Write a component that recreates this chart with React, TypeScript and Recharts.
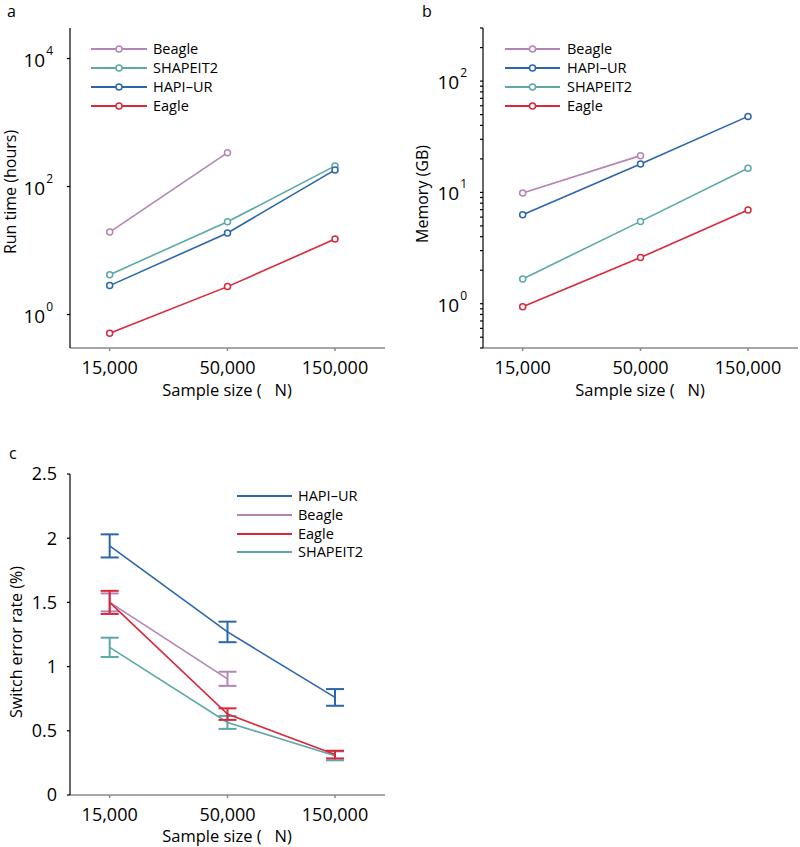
import React from 'react';
import { LineChart, Line, XAxis, YAxis, ErrorBar } from 'recharts';

const FONT = '"Open Sans", "Noto Sans", sans-serif';

// ---------- shared ----------
const sampleSizes = [15000, 50000, 150000];
const xTicks = [15000, 50000, 150000];

const COLORS = {
  beagle: '#b584b6',
  shapeit: '#5ba8a9',
  hapi: '#2a66ad',
  eagle: '#d8283a',
};

// ---------- panel a: run time (hours) ----------
const runBeagle = [19.4, 338, null];
const runShapeit = [4.2, 28.1, 210];
const runHapi = [2.83, 18.8, 182];
const runEagle = [0.51, 2.73, 15.1];
const runTicks = [1, 100, 10000];

// ---------- panel b: memory (GB) ----------
const memBeagle = [9.86, 21.4, null];
const memHapi = [6.3, 18.0, 48.2];
const memShapeit = [1.67, 5.49, 16.5];
const memEagle = [0.94, 2.6, 6.94];
const memTicks = [
  0.4, 0.5, 0.6, 0.7, 0.8, 0.9, 1,
  2, 3, 4, 5, 6, 7, 8, 9, 10,
  20, 30, 40, 50, 60, 70, 80, 90, 100,
  200, 300,
];

// ---------- panel c: switch error rate (%) ----------
const serHapi = [1.94, 1.27, 0.76];
const serHapiErr = [0.09, 0.08, 0.065];
const serBeagle = [1.5, 0.905, null];
const serBeagleErr = [0.07, 0.055, null];
const serEagle = [1.5, 0.63, 0.315];
const serEagleErr = [0.09, 0.045, 0.03];
const serShapeit = [1.15, 0.565, 0.305];
const serShapeitErr = [0.075, 0.05, 0.035];
const serTicks = [0, 0.5, 1, 1.5, 2, 2.5];

const legendA = [
  { name: 'Beagle', color: COLORS.beagle },
  { name: 'SHAPEIT2', color: COLORS.shapeit },
  { name: 'HAPI\u2013UR', color: COLORS.hapi },
  { name: 'Eagle', color: COLORS.eagle },
];
const legendB = [
  { name: 'Beagle', color: COLORS.beagle },
  { name: 'HAPI\u2013UR', color: COLORS.hapi },
  { name: 'SHAPEIT2', color: COLORS.shapeit },
  { name: 'Eagle', color: COLORS.eagle },
];
const legendC = [
  { name: 'HAPI\u2013UR', color: COLORS.hapi },
  { name: 'Beagle', color: COLORS.beagle },
  { name: 'Eagle', color: COLORS.eagle },
  { name: 'SHAPEIT2', color: COLORS.shapeit },
];

const dataA = sampleSizes.map((n, i) => ({
  n,
  beagle: runBeagle[i],
  shapeit: runShapeit[i],
  hapi: runHapi[i],
  eagle: runEagle[i],
}));

const dataB = sampleSizes.map((n, i) => ({
  n,
  beagle: memBeagle[i],
  hapi: memHapi[i],
  shapeit: memShapeit[i],
  eagle: memEagle[i],
}));

const dataC = sampleSizes.map((n, i) => ({
  n,
  hapi: serHapi[i],
  hapiErr: serHapiErr[i],
  beagle: serBeagle[i],
  beagleErr: serBeagleErr[i],
  eagle: serEagle[i],
  eagleErr: serEagleErr[i],
  shapeit: serShapeit[i],
  shapeitErr: serShapeitErr[i],
}));

const fmtN = (v: number) => v.toLocaleString('en-US');

const PowTick = (props: any) => {
  const { x, y, payload } = props;
  const v = payload.value;
  const lg = Math.log10(v);
  const e = Math.round(lg);
  if (Math.abs(lg - e) > 1e-6) return <g />;
  return (
    <text x={x} y={y} textAnchor="end" fontFamily={FONT} fill="#000">
      <tspan fontSize={19} dy={8}>10</tspan>
      <tspan fontSize={12} dy={-12} dx={1}>{e}</tspan>
    </text>
  );
};

const xAxisProps = {
  dataKey: 'n',
  type: 'number' as const,
  scale: 'log' as const,
  domain: [10000, 250000],
  ticks: xTicks,
  allowDataOverflow: true,
  tickFormatter: fmtN,
  height: 52,
  tickSize: 3,
  tickMargin: 10,
  stroke: '#8a8a8a',
  strokeWidth: 1.5,
  tick: { fill: '#000', fontSize: 18, fontFamily: FONT },
  interval: 0 as const,
};

const dotStyle = (c: string) => ({ r: 3, stroke: c, strokeWidth: 1.5, fill: '#fff' });

const LegendRows = ({ items, x1, x2, tx, ys, markers }: any) => (
  <g>
    {items.map((it: any, i: number) => (
      <g key={it.name}>
        <line x1={x1} x2={x2} y1={ys[i]} y2={ys[i]} stroke={it.color} strokeWidth={1.8} />
        {markers && (
          <circle cx={(x1 + x2) / 2} cy={ys[i]} r={3} fill="#fff" stroke={it.color} strokeWidth={1.5} />
        )}
        <text x={tx} y={ys[i] + 5} fontSize={14.5} fontFamily={FONT} fill="#000">
          {it.name}
        </text>
      </g>
    ))}
  </g>
);

export default function App() {
  return (
    <div style={{ position: 'absolute', left: 0, top: 0, width: 800, height: 847, background: '#fff' }}>
      {/* panel a */}
      <div style={{ position: 'absolute', left: 0, top: 0 }}>
        <LineChart width={400} height={400} data={dataA} margin={{ top: 28, right: 15, bottom: 0, left: 0 }}>
          <XAxis {...xAxisProps} />
          <YAxis
            type="number"
            scale="log"
            domain={[0.3, 30000]}
            ticks={runTicks}
            allowDataOverflow
            width={70}
            tickSize={3}
            tickMargin={14}
            stroke="#000"
            strokeWidth={1.2}
            interval={0}
            tick={<PowTick />}
          />
          <Line dataKey="beagle" stroke={COLORS.beagle} strokeWidth={1.6} dot={dotStyle(COLORS.beagle)} isAnimationActive={false} />
          <Line dataKey="shapeit" stroke={COLORS.shapeit} strokeWidth={1.6} dot={dotStyle(COLORS.shapeit)} isAnimationActive={false} />
          <Line dataKey="hapi" stroke={COLORS.hapi} strokeWidth={1.6} dot={dotStyle(COLORS.hapi)} isAnimationActive={false} />
          <Line dataKey="eagle" stroke={COLORS.eagle} strokeWidth={1.6} dot={dotStyle(COLORS.eagle)} isAnimationActive={false} />
        </LineChart>
      </div>

      {/* panel b */}
      <div style={{ position: 'absolute', left: 400, top: 0 }}>
        <LineChart width={400} height={400} data={dataB} margin={{ top: 28, right: 2, bottom: 0, left: 0 }}>
          <XAxis {...xAxisProps} />
          <YAxis
            type="number"
            scale="log"
            domain={[0.4, 300]}
            ticks={memTicks}
            allowDataOverflow
            width={83}
            tickSize={3}
            tickMargin={13}
            stroke="#000"
            strokeWidth={1.2}
            interval={0}
            tick={<PowTick />}
          />
          <Line dataKey="beagle" stroke={COLORS.beagle} strokeWidth={1.6} dot={dotStyle(COLORS.beagle)} isAnimationActive={false} />
          <Line dataKey="shapeit" stroke={COLORS.shapeit} strokeWidth={1.6} dot={dotStyle(COLORS.shapeit)} isAnimationActive={false} />
          <Line dataKey="hapi" stroke={COLORS.hapi} strokeWidth={1.6} dot={dotStyle(COLORS.hapi)} isAnimationActive={false} />
          <Line dataKey="eagle" stroke={COLORS.eagle} strokeWidth={1.6} dot={dotStyle(COLORS.eagle)} isAnimationActive={false} />
        </LineChart>
      </div>

      {/* panel c */}
      <div style={{ position: 'absolute', left: 0, top: 430 }}>
        <LineChart width={400} height={417} data={dataC} margin={{ top: 44, right: 15, bottom: 0, left: 0 }}>
          <XAxis {...xAxisProps} />
          <YAxis
            type="number"
            domain={[0, 2.5]}
            ticks={serTicks}
            width={70}
            tickSize={3}
            tickMargin={10}
            stroke="#000"
            strokeWidth={1.2}
            interval={0}
            tick={{ fill: '#000', fontSize: 18, fontFamily: FONT }}
          />
          <Line dataKey="shapeit" stroke={COLORS.shapeit} strokeWidth={1.6} dot={false} isAnimationActive={false}>
            <ErrorBar dataKey="shapeitErr" width={9} stroke={COLORS.shapeit} strokeWidth={2} direction="y" />
          </Line>
          <Line dataKey="beagle" stroke={COLORS.beagle} strokeWidth={1.6} dot={false} isAnimationActive={false}>
            <ErrorBar dataKey="beagleErr" width={9} stroke={COLORS.beagle} strokeWidth={2} direction="y" />
          </Line>
          <Line dataKey="eagle" stroke={COLORS.eagle} strokeWidth={1.6} dot={false} isAnimationActive={false}>
            <ErrorBar dataKey="eagleErr" width={9} stroke={COLORS.eagle} strokeWidth={2} direction="y" />
          </Line>
          <Line dataKey="hapi" stroke={COLORS.hapi} strokeWidth={1.6} dot={false} isAnimationActive={false}>
            <ErrorBar dataKey="hapiErr" width={9} stroke={COLORS.hapi} strokeWidth={2} direction="y" />
          </Line>
        </LineChart>
      </div>

      {/* text overlay: panel letters, axis titles, legends */}
      <svg width={800} height={847} style={{ position: 'absolute', left: 0, top: 0, pointerEvents: 'none' }}>
        <g fontFamily={FONT} fill="#000">
          <text x={7} y={17} fontSize={16}>a</text>
          <text x={422} y={17} fontSize={16}>b</text>
          <text x={9} y={459} fontSize={16}>c</text>

          <text transform="translate(16,192) rotate(-90)" textAnchor="middle" fontSize={16}>Run time (hours)</text>
          <text transform="translate(428,194) rotate(-90)" textAnchor="middle" fontSize={16}>Memory (GB)</text>
          <text transform="translate(22,642) rotate(-90)" textAnchor="middle" fontSize={16}>Switch error rate (%)</text>

          <text x={227} y={396} textAnchor="middle" fontSize={16.5} style={{ whiteSpace: 'pre' }}>{'Sample size (   N)'}</text>
          <text x={640} y={396} textAnchor="middle" fontSize={16.5} style={{ whiteSpace: 'pre' }}>{'Sample size (   N)'}</text>
          <text x={227} y={842} textAnchor="middle" fontSize={16.5} style={{ whiteSpace: 'pre' }}>{'Sample size (   N)'}</text>
        </g>
        <LegendRows items={legendA} x1={91} x2={147} tx={153} ys={[49, 68, 87, 106]} markers />
        <LegendRows items={legendB} x1={505} x2={560} tx={567} ys={[49, 68, 87, 106]} markers />
        <LegendRows items={legendC} x1={237} x2={292} tx={298} ys={[496, 515, 534, 552]} markers={false} />
      </svg>
    </div>
  );
}
